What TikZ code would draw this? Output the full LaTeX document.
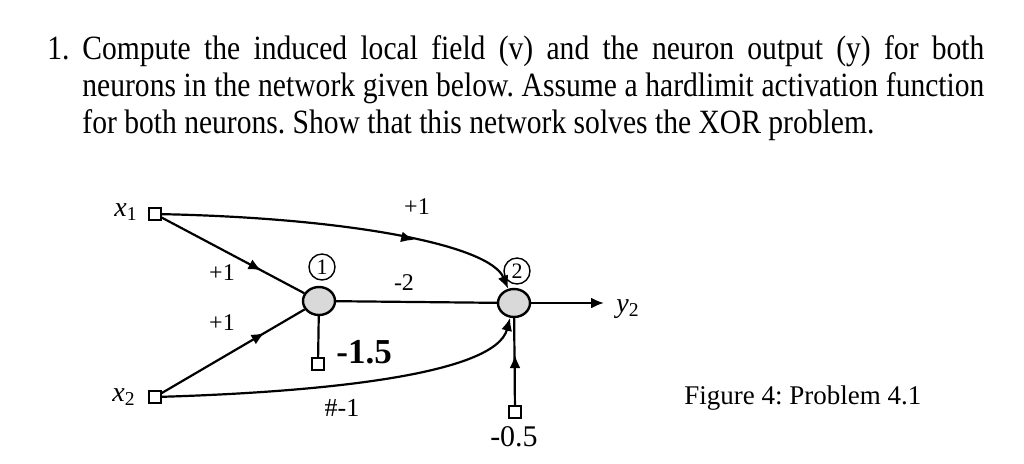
\documentclass[tikz,border=0pt]{standalone}
\usepackage{fontspec}
\setmainfont{Liberation Serif}
\newfontfamily\narrowfont[FakeStretch=0.87]{Liberation Serif}
\usepackage{tikz}
\usetikzlibrary{arrows.meta,shapes.geometric,decorations.markings}

\tikzset{
  neuron/.style={ellipse, draw, line width=1.2pt, fill=gray!30, minimum width=16pt, minimum height=14pt, inner sep=0pt},
  src/.style={rectangle, draw, line width=0.8pt, fill=white, minimum size=6pt, inner sep=0pt},
  tag/.style={circle, draw, line width=0.7pt, inner sep=0pt, minimum size=13pt, font=\fontsize{11}{11}\selectfont},
  wire/.style={line width=1.1pt},
  tip/.style={-{Latex[length=6.5pt,width=5.5pt]}},
  midtip/.style={postaction={decorate}, decoration={markings, mark=at position #1 with {\arrow{Latex[length=6.5pt,width=5.5pt]}}}},
  wlabel/.style={font=\fontsize{12}{12}\selectfont, inner sep=0pt}
}

\begin{document}
\frenchspacing
\begin{tikzpicture}[x=0.5pt, y=-0.5pt]
\useasboundingbox (0,0) rectangle (1024,463);
% question
\node[anchor=base west, inner sep=0pt, font=\narrowfont\fontsize{17}{18.5}\selectfont] (num) at (47,59) {1.};
\node[anchor=north west, inner sep=0pt, text width=451pt, align=justify, font=\narrowfont\fontsize{17}{18.5}\selectfont] (task) at (82,35)
  {Compute the induced local field (v) and the neuron output (y) for both\linebreak
   neurons in the network given below. Assume a hardlimit activation function\linebreak
   for both neurons. Show that this network solves the XOR problem.};

% network
\node[src] (x1) at (155,214) {};
\node[src] (x2) at (155,397) {};
\node[wlabel, font=\fontsize{14}{14}\selectfont] (lx1) at (126,212) {\textit{x}\textsubscript{1}};
\node[wlabel, font=\fontsize{14}{14}\selectfont] (lx2) at (124,397) {\textit{x}\textsubscript{2}};
\node[neuron] (n1) at (319,301) {};
\node[neuron] (n2) at (514,303) {};
\node[tag] (t1) at (322,267) {1};
\node[tag] (t2) at (517,271) {2};
\node[src] (b1) at (318,364) {};
\node[src] (b2) at (515,412) {};
\coordinate (b2tip) at (515,355);
\coordinate (out) at (604,303);

\draw[wire, midtip=0.7] (x1) -- (n1);
\draw[wire, midtip=0.72] (x2) -- (n1);
\draw[wire] (n1) -- (n2);
\draw[wire, midtip=0.7, tip] (x1) .. controls (350,218) and (490,245) .. (n2);
\draw[wire, tip] (x2) .. controls (320,392) and (495,375) .. (n2);
\draw[wire] (n1) -- (b1);
\draw[wire] (b2) -- (n2);
\draw[wire, tip] (b2) -- (b2tip);
\draw[wire, tip] (n2) -- (out);

% weights
\node[wlabel] (w11) at (222,273) {+1};
\node[wlabel] (w21) at (222,323) {+1};
\node[wlabel] (w12) at (417,207) {+1};
\node[wlabel, font=\fontsize{13}{13}\selectfont] (w22) at (342,408) {\#-1};
\node[wlabel] (w3) at (404,283) {-2};
\node[wlabel, font=\bfseries\fontsize{17.5}{17.5}\selectfont, anchor=west] (lb1) at (336,352) {-1.5};
\node[wlabel, font=\fontsize{15}{15}\selectfont] (lb2) at (514,437) {-0.5};
\node[wlabel, font=\fontsize{14}{14}\selectfont] (ly2) at (628,309) {\textit{y}\textsubscript{2}};

\node[wlabel, font=\fontsize{13.5}{13.5}\selectfont, anchor=west] (cap) at (684,398) {Figure 4: Problem 4.1};
\end{tikzpicture}
\end{document}
